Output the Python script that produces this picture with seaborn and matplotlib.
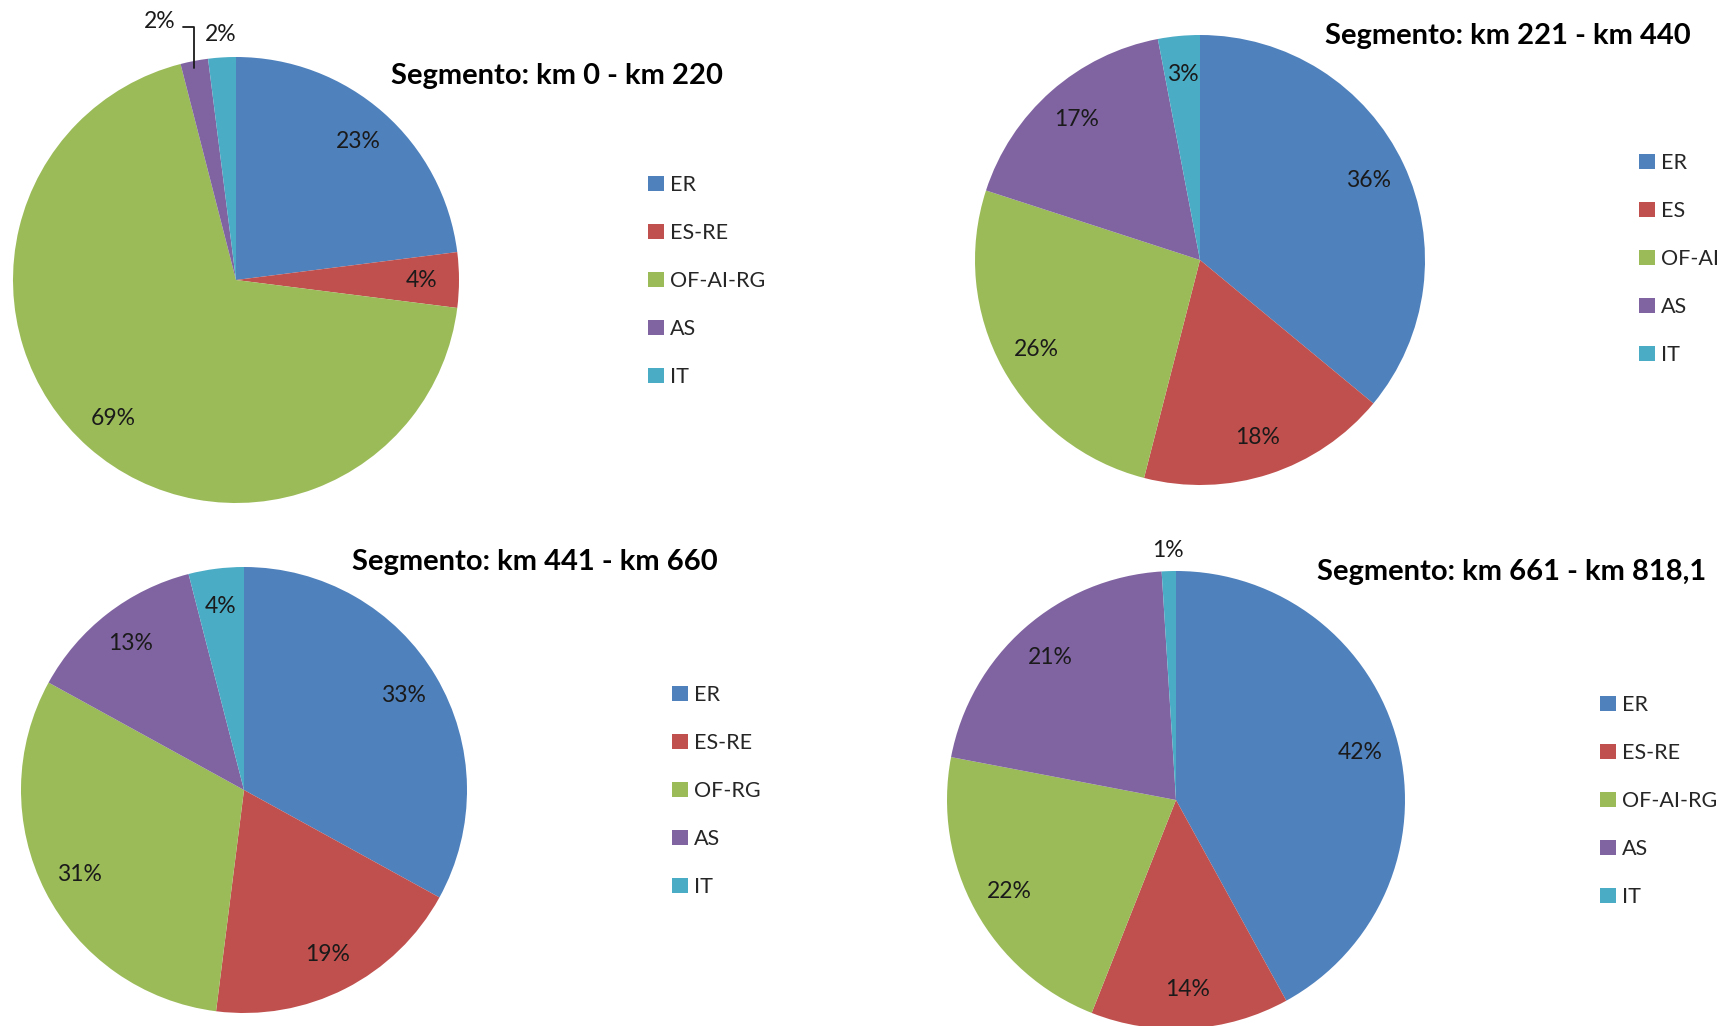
import matplotlib
matplotlib.use("Agg")
import matplotlib.pyplot as plt
import numpy as np
import seaborn as sns

# data
titles = ['Segmento: km 0 - km 220', 'Segmento: km 221 - km 440',
          'Segmento: km 441 - km 660', 'Segmento: km 661 - km 818,1']
labels_1 = ['ER', 'ES-RE', 'OF-AI-RG', 'AS', 'IT']
labels_2 = ['ER', 'ES', 'OF-AI', 'AS', 'IT']
labels_3 = ['ER', 'ES-RE', 'OF-RG', 'AS', 'IT']
labels_4 = ['ER', 'ES-RE', 'OF-AI-RG', 'AS', 'IT']
values_1 = [23, 4, 69, 2, 2]
values_2 = [36, 18, 26, 17, 3]
values_3 = [33, 19, 31, 13, 4]
values_4 = [42, 14, 22, 21, 1]

COLORS = ['#4F81BD', '#C0504D', '#9BBB59', '#8064A2', '#4BACC6']
TXT = '#1a1a1a'

sns.set_theme(style='white')
plt.rcParams['font.family'] = ['Lato', 'DejaVu Sans']

W, H = 1722, 1026
fig = plt.figure(figsize=(W / 100, H / 100), dpi=100)

# pixel layout: pie centre, radius, title centre, legend top-left
layout = [
    dict(c=(236, 280), r=223, title=(557, 76), leg=(648, 175)),
    dict(c=(1200, 260), r=225, title=(1508, 36), leg=(1639, 153)),
    dict(c=(244, 790), r=223, title=(535, 562), leg=(672, 685)),
    dict(c=(1176, 800), r=229, title=(1512, 572), leg=(1600, 695)),
]
all_labels = [labels_1, labels_2, labels_3, labels_4]
all_values = [values_1, values_2, values_3, values_4]


def fx(px):
    return px / W


def fy(py):
    return 1 - py / H


for k in range(4):
    lay = layout[k]
    cx, cy = lay['c']
    r = lay['r']
    ax = fig.add_axes([fx(cx - r), fy(cy + r), 2 * r / W, 2 * r / H])
    wedges, texts, autotexts = ax.pie(
        all_values[k], colors=COLORS, startangle=90, counterclock=False,
        autopct='%1.0f%%', pctdistance=0.83,
        wedgeprops=dict(linewidth=0),
        textprops=dict(fontsize=16.5, color=TXT))
    ax.set_xlim(-1, 1)
    ax.set_ylim(-1, 1)
    ax.set_aspect('auto')
    ax.axis('off')

    # small slices: labels outside
    for i, v in enumerate(all_values[k]):
        if v <= 2:
            w = wedges[i]
            mid = np.deg2rad((w.theta1 + w.theta2) / 2)
            autotexts[i].set_position((1.10 * np.cos(mid), 1.09 * np.sin(mid)))
            autotexts[i].set_ha('center')
            autotexts[i].set_clip_on(False)
    if k == 0:
        # AS label with leader line
        w = wedges[3]
        mid = np.deg2rad((w.theta1 + w.theta2) / 2)
        autotexts[3].set_visible(False)
        ax.annotate('2%', xy=(np.cos(mid), 0.97 * np.sin(mid)),
                    xytext=(-0.27, 1.16), ha='right', va='center',
                    fontsize=16.5, color=TXT, annotation_clip=False,
                    arrowprops=dict(arrowstyle='-', color=TXT, lw=1.3,
                                    shrinkA=3, shrinkB=0, relpos=(1, 0.25),
                                    connectionstyle='angle,angleA=0,angleB=90,rad=0'))
        autotexts[4].set_position((-0.14, 1.10))
        autotexts[4].set_ha('left')

    fig.text(fx(lay['title'][0]), fy(lay['title'][1]), titles[k],
             ha='center', va='center', fontsize=21, fontweight='bold', color='black')

    fig.legend(wedges, all_labels[k], loc='upper left',
               bbox_to_anchor=(fx(lay['leg'][0]), fy(lay['leg'][1])),
               bbox_transform=fig.transFigure, frameon=False, fontsize=15.5,
               handlelength=0.75, handleheight=0.75, handletextpad=0.25,
               labelspacing=1.3, borderpad=0, borderaxespad=0)

fig.savefig('out.png', dpi=100, facecolor='white')
